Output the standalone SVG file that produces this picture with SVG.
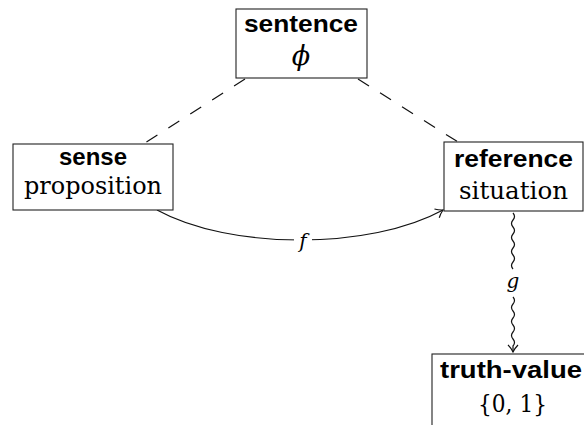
<svg xmlns="http://www.w3.org/2000/svg" width="584" height="425" viewBox="0 0 584 425">
<style>
.box{fill:#fff;stroke:#222;stroke-width:1.1}
.b{font-family:"Liberation Sans",Arial,sans-serif;font-weight:bold;font-size:24px;fill:#000;text-anchor:middle}
.r{font-family:"DejaVu Serif",serif;font-size:25px;fill:#000;text-anchor:middle}
.m{font-family:"DejaVu Serif",serif;font-style:italic;font-size:20px;fill:#000;text-anchor:middle}
.phi{font-size:27px}
.ln{fill:none;stroke:#111;stroke-width:1.2}
</style>
<defs>
<marker id="to" markerUnits="userSpaceOnUse" markerWidth="14" markerHeight="14" viewBox="-8 -7 10 14" refX="0" refY="0" orient="auto" overflow="visible">
<path d="M-7,-5 C-4,-2 -1,-0.5 0,0 C-1,0.5 -4,2 -7,5" fill="none" stroke="#111" stroke-width="1.2"/>
</marker>
</defs>
<g id="connectors">
<line class="ln" x1="245" y1="79" x2="145" y2="143" stroke-dasharray="13 13"/>
<line class="ln" x1="358" y1="79" x2="458" y2="142" stroke-dasharray="13 13"/>
<path class="ln" d="M157,210 C230,250 370,250 443,210" marker-end="url(#to)"/>
<rect x="294" y="230" width="18" height="22" fill="#fff"/>
<text class="m" x="303" y="248">f</text>
<path class="ln" d="M513,213 q3,3.5 0,7 t0,7 t0,7 t0,7 t0,7 t0,7 t0,7 t0,7"/>
<text class="m" x="513" y="288">g</text>
<path class="ln" d="M513,297 q3,3.5 0,7 t0,7 t0,7 t0,7 t0,7 t0,7 t0,7 l0,6" marker-end="url(#to)"/>
</g>
<g id="sentence">
<rect class="box" x="236" y="9" width="131" height="69"/>
<text class="b" x="301" y="32" textLength="114" lengthAdjust="spacingAndGlyphs">sentence</text>
<text class="m phi" x="301" y="65">ϕ</text>
</g>
<g id="sense">
<rect class="box" x="13" y="144" width="160" height="66"/>
<text class="b" x="93" y="165" textLength="68" lengthAdjust="spacingAndGlyphs">sense</text>
<text class="r" x="93" y="194" textLength="138" lengthAdjust="spacingAndGlyphs">proposition</text>
</g>
<g id="reference">
<rect class="box" x="444" y="142" width="139" height="69"/>
<text class="b" x="513.5" y="167" textLength="119" lengthAdjust="spacingAndGlyphs">reference</text>
<text class="r" x="513.5" y="199" textLength="109" lengthAdjust="spacingAndGlyphs">situation</text>
</g>
<g id="truth-value">
<rect class="box" x="432" y="354" width="160" height="80"/>
<text class="b" x="511" y="378" textLength="142" lengthAdjust="spacingAndGlyphs">truth-value</text>
<text class="r" x="512.5" y="412" textLength="69" lengthAdjust="spacingAndGlyphs">{0, 1}</text>
</g>
</svg>
